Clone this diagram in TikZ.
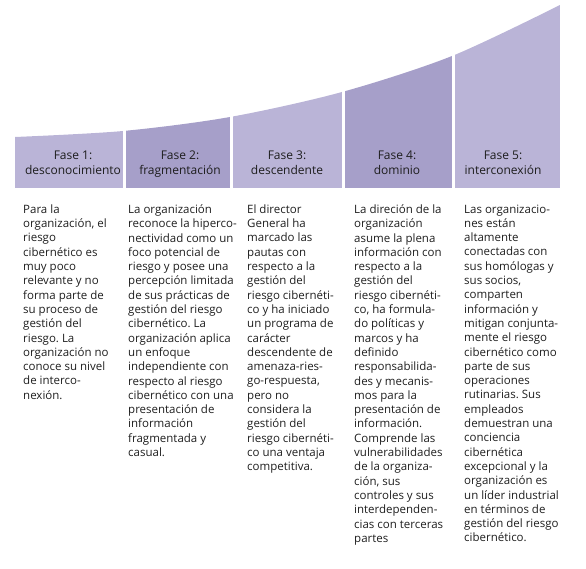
\documentclass[tikz,border=0pt]{standalone}
\usepackage{fontspec}
\setmainfont{Open Sans}
\frenchspacing
\definecolor{phaselight}{RGB}{186,180,215}
\definecolor{phasedark}{RGB}{166,159,201}
\definecolor{textgray}{RGB}{30,30,30}

\begin{document}
\begin{tikzpicture}[x=1pt, y=-1pt,
  head/.style={anchor=north, align=center, inner sep=0pt, text=textgray,
    font=\fontsize{12}{15}\selectfont},
  desc/.style={anchor=north west, align=left, inner sep=0pt, text=textgray,
    font=\fontsize{11.5}{14.3}\selectfont}
]
  \useasboundingbox (0,0) rectangle (586,569);

  % Rising bars under one curve
  \begin{scope}
    \clip (15,188) -- plot[smooth] coordinates {(15,137) (123,131) (230,117)
      (342,92) (452,56) (560,5)} -- (560,188) -- cycle;
    \fill[phaselight] (15,0) rectangle (123,188);
    \fill[phasedark] (125.5,0) rectangle (230,188);
    \fill[phaselight] (232.5,0) rectangle (342,188);
    \fill[phasedark] (344.5,0) rectangle (452,188);
    \fill[phaselight] (454.5,0) rectangle (560,188);
  \end{scope}

  % Phase titles
  \node[head] (h1) at (73,150.5) {Fase 1:\\desconocimiento};
  \node[head] (h2) at (180,150.5) {Fase 2:\\fragmentación};
  \node[head] (h3) at (287,150.5) {Fase 3:\\descendente};
  \node[head] (h4) at (397,150.5) {Fase 4:\\dominio};
  \node[head] (h5) at (503,150.5) {Fase 5:\\interconexión};

  % Descriptions
  \node[desc] (d1) at (23,204.4) {Para la\\organización, el\\riesgo\\cibernético es\\muy poco\\relevante y no\\forma parte de\\su proceso de\\gestión del\\riesgo. La\\organización no\\conoce su nivel\\de interco-\\nexión.};
  \node[desc] (d2) at (128,204.4) {La organización\\reconoce la hiperco-\\nectividad como un\\foco potencial de\\riesgo y posee una\\percepción limitada\\de sus prácticas de\\gestión del riesgo\\cibernético. La\\organización aplica\\un enfoque\\independiente con\\respecto al riesgo\\cibernético con una\\presentación de\\información\\fragmentada y\\casual.};
  \node[desc] (d3) at (247,204.4) {El director\\General ha\\marcado las\\pautas con\\respecto a la\\gestión del\\riesgo cibernéti-\\co y ha iniciado\\un programa de\\carácter\\descendente de\\amenaza-ries-\\go-respuesta,\\pero no\\considera la\\gestión del\\riesgo cibernéti-\\co una ventaja\\competitiva.};
  \node[desc] (d4) at (354,204.4) {La direción de la\\organización\\asume la plena\\información con\\respecto a la\\gestión del\\riesgo cibernéti-\\co, ha formula-\\do políticas y\\marcos y ha\\definido\\responsabilida-\\des y mecanis-\\mos para la\\presentación de\\información.\\Comprende las\\vulnerabilidades\\de la organiza-\\ción, sus\\controles y sus\\interdependen-\\cias con terceras\\partes};
  \node[desc] (d5) at (464,204.4) {Las organizacio-\\nes están\\altamente\\conectadas con\\sus homólogas y\\sus socios,\\comparten\\información y\\mitigan conjunta-\\mente el riesgo\\cibernético como\\parte de sus\\operaciones\\rutinarias. Sus\\empleados\\demuestran una\\conciencia\\cibernética\\excepcional y la\\organización es\\un líder industrial\\en términos de\\gestión del riesgo\\cibernético.};
\end{tikzpicture}
\end{document}
